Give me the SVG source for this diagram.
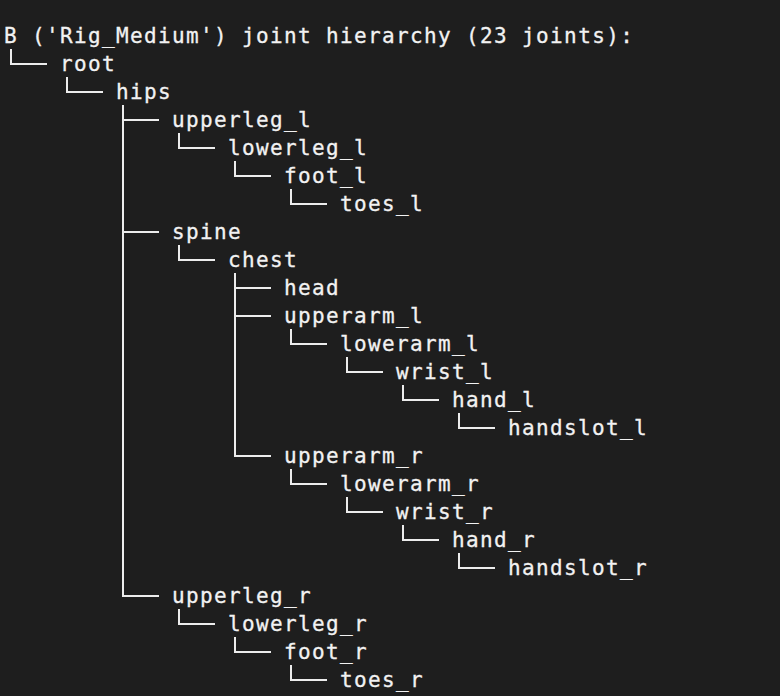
<svg xmlns="http://www.w3.org/2000/svg" width="780" height="696" viewBox="0 0 780 696">
<style>
.t{font-family:"DejaVu Sans Mono","Liberation Mono",monospace;font-size:21px;letter-spacing:1.36px;fill:#f2f2f2;stroke:#f2f2f2;stroke-width:0.3px}
.c{fill:none;stroke:#ececec;stroke-width:2;stroke-linecap:square}
</style>
<rect width="780" height="696" fill="#1e1e1e"/>
<g id="title"><text class="t" x="4" y="43">B ('Rig_Medium') joint hierarchy (23 joints):</text></g>
<g id="connectors">
<path class="c" d="M11 50V64H46"/>
<path class="c" d="M67 78V92H102"/>
<path class="c" d="M123 106V596H158M123 120H158M123 232H158"/>
<path class="c" d="M179 134V148H214"/>
<path class="c" d="M235 162V176H270"/>
<path class="c" d="M291 190V204H326"/>
<path class="c" d="M179 246V260H214"/>
<path class="c" d="M235 274V456H270M235 288H270M235 316H270"/>
<path class="c" d="M291 330V344H326"/>
<path class="c" d="M347 358V372H382"/>
<path class="c" d="M403 386V400H438"/>
<path class="c" d="M459 414V428H494"/>
<path class="c" d="M291 470V484H326"/>
<path class="c" d="M347 498V512H382"/>
<path class="c" d="M403 526V540H438"/>
<path class="c" d="M459 554V568H494"/>
<path class="c" d="M179 610V624H214"/>
<path class="c" d="M235 638V652H270"/>
<path class="c" d="M291 666V680H326"/>
</g>
<g id="root"><text class="t" x="60" y="71">root</text></g>
<g id="hips"><text class="t" x="116" y="99">hips</text></g>
<g id="upperleg_l"><text class="t" x="172" y="127">upperleg_l</text></g>
<g id="lowerleg_l"><text class="t" x="228" y="155">lowerleg_l</text></g>
<g id="foot_l"><text class="t" x="284" y="183">foot_l</text></g>
<g id="toes_l"><text class="t" x="340" y="211">toes_l</text></g>
<g id="spine"><text class="t" x="172" y="239">spine</text></g>
<g id="chest"><text class="t" x="228" y="267">chest</text></g>
<g id="head"><text class="t" x="284" y="295">head</text></g>
<g id="upperarm_l"><text class="t" x="284" y="323">upperarm_l</text></g>
<g id="lowerarm_l"><text class="t" x="340" y="351">lowerarm_l</text></g>
<g id="wrist_l"><text class="t" x="396" y="379">wrist_l</text></g>
<g id="hand_l"><text class="t" x="452" y="407">hand_l</text></g>
<g id="handslot_l"><text class="t" x="508" y="435">handslot_l</text></g>
<g id="upperarm_r"><text class="t" x="284" y="463">upperarm_r</text></g>
<g id="lowerarm_r"><text class="t" x="340" y="491">lowerarm_r</text></g>
<g id="wrist_r"><text class="t" x="396" y="519">wrist_r</text></g>
<g id="hand_r"><text class="t" x="452" y="547">hand_r</text></g>
<g id="handslot_r"><text class="t" x="508" y="575">handslot_r</text></g>
<g id="upperleg_r"><text class="t" x="172" y="603">upperleg_r</text></g>
<g id="lowerleg_r"><text class="t" x="228" y="631">lowerleg_r</text></g>
<g id="foot_r"><text class="t" x="284" y="659">foot_r</text></g>
<g id="toes_r"><text class="t" x="340" y="687">toes_r</text></g>
</svg>
